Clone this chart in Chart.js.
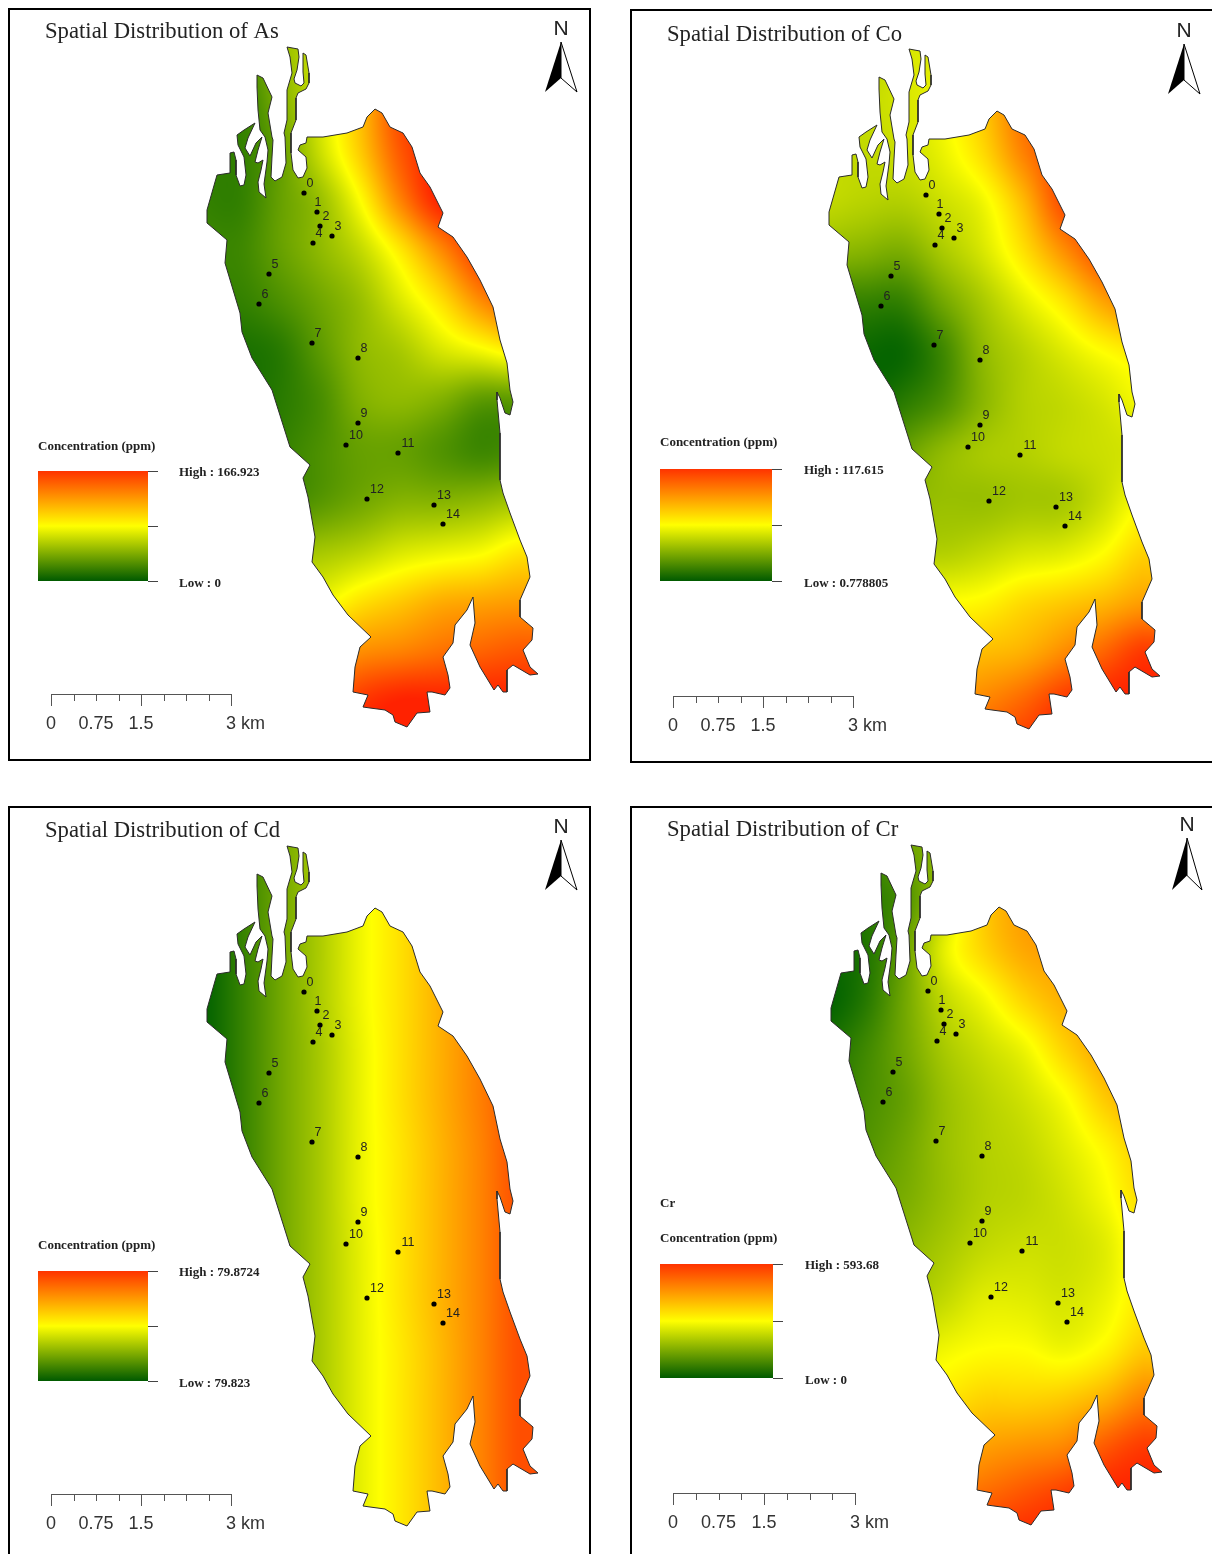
<!DOCTYPE html>
<html>
<head>
<meta charset="utf-8">
<title>Spatial Distribution</title>
<script src="https://cdn.jsdelivr.net/npm/chart.js@4"></script>
<style>
  html, body { margin: 0; padding: 0; background: #fff; overflow: hidden; width: 1212px; height: 1554px; }
  canvas { position: absolute; }
  .frame { position: absolute; border: 2px solid #000; box-sizing: border-box; }
</style>
</head>
<body>
<script>
// metals
var metals = ['As', 'Co', 'Cd', 'Cr'];
var highLabels = ['High : 166.923', 'High : 117.615', 'High : 79.8724', 'High : 593.68'];
var lowLabels = ['Low : 0', 'Low : 0.778805', 'Low : 79.823', 'Low : 0'];

// sampling stations, in map units
var stationIds = ['0','1','2','3','4','5','6','7','8','9','10','11','12','13','14'];
var stationX = [304,317,320,332,313,269,259,312,358,358,346,398,367,434,443];
var stationY = [193,212,226,236,243,274,304,343,358,423,445,453,499,505,524];

// coast outline, in map units, clockwise from the northern tip
var outline = [[287,47],[298,49],[299,57],[297,70],[294,79],[295,83],[301,86],[304,83],[303,72],[303,53],[306,55],[309,73],[309,83],[306,89],[298,93],[296,98],[296,120],[291,133],[291,153],[293,170],[298,178],[303,177],[307,168],[306,157],[298,150],[300,145],[306,143],[307,137],[323,137],[347,133],[363,127],[367,117],[375,109],[382,113],[390,127],[403,133],[412,147],[420,173],[430,187],[438,203],[443,213],[438,227],[453,237],[467,257],[480,280],[493,307],[500,340],[507,363],[510,390],[513,402],[510,415],[505,413],[500,398],[497,392],[497,400],[500,433],[500,480],[503,493],[510,513],[520,540],[527,557],[530,577],[520,600],[520,617],[533,628],[532,640],[523,650],[530,667],[538,674],[530,675],[513,665],[507,670],[507,692],[503,692],[498,685],[494,690],[480,667],[470,645],[475,623],[473,597],[467,610],[455,625],[453,643],[443,657],[448,675],[450,688],[445,695],[432,692],[427,692],[430,712],[417,713],[407,727],[395,722],[393,715],[385,710],[370,708],[363,707],[368,695],[353,692],[355,667],[360,647],[371,637],[348,615],[333,595],[323,577],[312,562],[315,537],[308,497],[303,478],[310,465],[290,447],[272,390],[252,358],[242,332],[240,313],[225,263],[227,240],[207,223],[207,210],[217,175],[230,173],[230,153],[234,152],[236,160],[236,175],[240,186],[244,185],[246,175],[244,157],[238,145],[237,135],[244,130],[255,123],[248,138],[245,148],[250,156],[256,143],[262,137],[258,150],[255,162],[258,163],[263,160],[261,170],[258,182],[259,192],[266,198],[264,184],[267,162],[268,150],[265,137],[260,130],[258,110],[257,87],[257,75],[263,78],[272,97],[268,113],[272,137],[273,140],[272,157],[271,177],[275,181],[282,177],[286,163],[285,137],[284,133],[287,120],[287,90],[292,73],[290,57]];

// surface grid: columns and rows of the values below, in map units
var gridX = [200,240,280,320,360,400,440,480,520];
var gridY = [50,100,150,200,250,300,350,400,450,500,550,600,650,700,750];

// surface values, 0 = low (green), 0.5 = yellow, 1 = high (red)
var surfaceAs = [
  [.12,.14,.28,.42,.62,.75,.85,.85,.85],
  [.1,.1,.25,.42,.64,.9,.95,.95,.95],
  [.1,.1,.2,.4,.62,.88,1,1,1],
  [.1,.1,.2,.3,.5,.78,1,1,1],
  [.12,.12,.2,.28,.38,.55,.76,.95,1],
  [.1,.1,.15,.22,.3,.43,.57,.76,.88],
  [.05,.05,.08,.18,.28,.33,.42,.48,.55],
  [.05,.05,.08,.14,.25,.28,.25,.18,.18],
  [.05,.05,.1,.15,.2,.2,.16,.12,.14],
  [.1,.1,.12,.17,.22,.26,.26,.28,.32],
  [.3,.3,.3,.32,.36,.42,.45,.48,.55],
  [.45,.45,.45,.47,.56,.62,.68,.7,.72],
  [.65,.65,.65,.68,.75,.78,.82,.85,.88],
  [.85,.85,.85,.85,.95,1,1,1,1],
  [1,1,1,1,1,1,1,1,1]
];
var surfaceCo = [
  [.35,.35,.42,.45,.6,.8,.9,.9,.9],
  [.36,.38,.42,.48,.62,.82,.9,.9,.9],
  [.38,.38,.4,.46,.58,.78,.92,.95,.95],
  [.38,.36,.35,.4,.47,.65,.9,.95,.95],
  [.28,.26,.24,.33,.42,.56,.74,.9,.95],
  [.1,.1,.1,.22,.33,.44,.55,.7,.8],
  [.02,.02,.02,.12,.28,.36,.43,.5,.55],
  [.02,.02,.08,.15,.27,.35,.38,.42,.48],
  [.1,.12,.2,.28,.33,.35,.38,.4,.42],
  [.2,.25,.28,.3,.3,.32,.33,.4,.5],
  [.35,.35,.36,.35,.38,.42,.44,.5,.6],
  [.5,.5,.5,.5,.52,.58,.62,.66,.72],
  [.6,.6,.62,.62,.65,.68,.76,.85,.95],
  [.75,.75,.75,.75,.78,.85,.95,1,1],
  [.9,.9,.9,.9,.9,.95,1,1,1]
];
var surfaceCd = [
  [0,.1,.22,.34,.47,.57,.68,.79,.9],
  [0,.1,.22,.34,.47,.57,.68,.79,.9],
  [0,.1,.22,.34,.47,.57,.68,.79,.9],
  [0,.1,.22,.34,.47,.57,.68,.79,.9],
  [0,.1,.22,.33,.46,.57,.68,.79,.9],
  [0,.1,.22,.33,.46,.57,.68,.79,.9],
  [0,.1,.22,.33,.46,.56,.67,.78,.9],
  [0,.1,.22,.33,.46,.56,.67,.78,.9],
  [0,.1,.22,.33,.45,.56,.67,.78,.9],
  [0,.1,.22,.33,.45,.56,.67,.78,.9],
  [0,.1,.22,.33,.45,.55,.66,.78,.9],
  [0,.1,.22,.33,.45,.55,.66,.78,.9],
  [0,.1,.22,.33,.45,.55,.66,.78,.9],
  [0,.1,.22,.33,.45,.55,.66,.78,.9],
  [0,.1,.22,.33,.45,.55,.66,.78,.9]
];
var surfaceCr = [
  [.1,.12,.2,.3,.5,.7,.7,.7,.7],
  [.05,.08,.15,.35,.6,.72,.75,.75,.75],
  [.03,.06,.2,.45,.6,.7,.72,.72,.72],
  [0,.07,.22,.38,.48,.6,.68,.7,.7],
  [.05,.12,.22,.33,.4,.47,.6,.7,.72],
  [.08,.14,.2,.3,.36,.41,.49,.62,.7],
  [.12,.16,.22,.3,.35,.38,.44,.52,.62],
  [.15,.2,.24,.3,.35,.37,.41,.48,.58],
  [.22,.25,.28,.33,.38,.4,.4,.44,.55],
  [.3,.3,.32,.38,.44,.44,.42,.46,.55],
  [.38,.38,.42,.47,.5,.5,.47,.52,.62],
  [.5,.5,.5,.55,.6,.6,.62,.68,.78],
  [.6,.6,.6,.65,.72,.75,.78,.88,.95],
  [.8,.8,.8,.82,.85,.9,.95,1,1],
  [1,1,1,1,1,1,1,1,1]
];
var surfaces = [surfaceAs, surfaceCo, surfaceCd, surfaceCr];

// scale bar
var scaleKm = [0,0.375,0.75,1.125,1.5,1.875,2.25,2.625,3];
var scaleLabelKm = [0,0.75,1.5];
var scaleLabels = ['0','0.75','1.5'];

// layout of the four panels (canvas shift on the page, and where things sit in it)
var panels = [
  {dx:0,   dy:0,   frame:[8,8,583,753],    titleX:45, titleY:32, legX:38, legY0:471, legW:110, legH:110, legTitleY:447, hiX:179, barX:51, barW:180, barY:694, north:[561,42,16,50]},
  {dx:622, dy:2,   frame:[630,9,590,754],  titleX:45, titleY:33, legX:38, legY0:467, legW:112, legH:112, legTitleY:441, hiX:182, barX:51, barW:180, barY:694, north:[562,42,16,50]},
  {dx:0,   dy:799, frame:[8,806,583,760],  titleX:45, titleY:32, legX:38, legY0:472, legW:110, legH:110, legTitleY:447, hiX:179, barX:51, barW:180, barY:695, north:[561,41,16,50]},
  {dx:624, dy:798, frame:[630,806,590,760],titleX:43, titleY:32, legX:36, legY0:466, legW:113, legH:114, legTitleY:441, hiX:181, barX:49, barW:182, barY:695, north:[563,40,15,52], extra:'Cr', extraY:406}
];

function rampColor(v) {
  v = Math.max(0, Math.min(1, v));
  if (v < 0.5) {
    var t = v / 0.5;
    return [255 * t, 97 + 158 * t, 0];
  }
  var u = (v - 0.5) / 0.5;
  return [255, 255 - 221 * u, 0];
}

function cubic(a, b, c, d, t) {
  return b + 0.5 * t * (c - a + t * (2 * a - 5 * b + 4 * c - d + t * (3 * (b - c) + d - a)));
}

function sampleSurface(rows, x, y) {
  var fx = (x - gridX[0]) / (gridX[1] - gridX[0]);
  var fy = (y - gridY[0]) / (gridY[1] - gridY[0]);
  fx = Math.max(0, Math.min(gridX.length - 1.001, fx));
  fy = Math.max(0, Math.min(gridY.length - 1.001, fy));
  var ix = Math.floor(fx), iy = Math.floor(fy);
  var col = [];
  for (var j = -1; j <= 2; j++) {
    var r = rows[Math.max(0, Math.min(rows.length - 1, iy + j))];
    col.push(cubic(r[Math.max(0, ix - 1)], r[ix], r[ix + 1], r[Math.min(r.length - 1, ix + 2)], fx - ix));
  }
  return cubic(col[0], col[1], col[2], col[3], fy - iy);
}

function tracePath(ctx, chart) {
  var xs = chart.scales.x, ys = chart.scales.y;
  ctx.beginPath();
  for (var i = 0; i < outline.length; i++) {
    var px = xs.getPixelForValue(outline[i][0]), py = ys.getPixelForValue(outline[i][1]);
    if (i == 0) ctx.moveTo(px, py); else ctx.lineTo(px, py);
  }
  ctx.closePath();
}

// paints the interpolated surface inside the coast
var surfacePlugin = {
  id: 'surface',
  beforeDatasetsDraw: function(chart, args, opts) {
    var xs = chart.scales.x, ys = chart.scales.y, ctx = chart.ctx;
    var x0 = xs.getPixelForValue(200), x1 = xs.getPixelForValue(545);
    var y0 = ys.getPixelForValue(40), y1 = ys.getPixelForValue(735);
    var w = Math.round(x1 - x0), h = Math.round(y1 - y0);
    var off = document.createElement('canvas');
    off.width = w; off.height = h;
    var octx = off.getContext('2d');
    var img = octx.createImageData(w, h);
    for (var j = 0; j < h; j++) {
      var vy = ys.getValueForPixel(y0 + j);
      for (var i = 0; i < w; i++) {
        var c = rampColor(sampleSurface(opts.rows, xs.getValueForPixel(x0 + i), vy));
        var k = (j * w + i) * 4;
        img.data[k] = c[0]; img.data[k + 1] = c[1]; img.data[k + 2] = c[2]; img.data[k + 3] = 255;
      }
    }
    octx.putImageData(img, 0, 0);
    ctx.save();
    tracePath(ctx, chart);
    ctx.clip();
    ctx.drawImage(off, x0, y0);
    ctx.restore();
  }
};

// title, legend, scale bar, north arrow and station labels
var furniturePlugin = {
  id: 'furniture',
  afterDatasetsDraw: function(chart, args, opts) {
    var ctx = chart.ctx, p = opts.panel, n = opts.index;
    var sx = function(v) { return chart.scales.x.getPixelForValue(v); };
    var sy = function(v) { return chart.scales.y.getPixelForValue(v); };
    ctx.save();
    ctx.textBaseline = 'middle';

    // station labels
    ctx.fillStyle = '#222';
    ctx.font = '12.5px "Liberation Sans"';
    ctx.textAlign = 'center';
    for (var i = 0; i < stationIds.length; i++) {
      var shift = i >= 10 ? 10 : 6;
      if (i == 1) shift = 1;
      ctx.fillText(stationIds[i], sx(stationX[i] + shift), sy(stationY[i] - 9));
    }

    // title
    ctx.textAlign = 'left';
    ctx.fillStyle = '#222';
    ctx.font = '22.7px "Liberation Serif"';
    ctx.fillText('Spatial Distribution of ' + metals[n], sx(p.titleX), sy(p.titleY));

    // legend
    var grad = ctx.createLinearGradient(0, sy(p.legY0), 0, sy(p.legY0 + p.legH));
    grad.addColorStop(0, '#ff3300');
    grad.addColorStop(0.5, '#ffff00');
    grad.addColorStop(1, '#005a00');
    ctx.fillStyle = grad;
    ctx.fillRect(sx(p.legX), sy(p.legY0), p.legW, p.legH);
    ctx.strokeStyle = '#444';
    ctx.lineWidth = 1;
    [0, 0.5, 1].forEach(function(f) {
      var ty = Math.round(sy(p.legY0 + p.legH * f)) + 0.5;
      ctx.beginPath();
      ctx.moveTo(sx(p.legX + p.legW), ty);
      ctx.lineTo(sx(p.legX + p.legW + 10), ty);
      ctx.stroke();
    });
    ctx.fillStyle = '#222';
    ctx.font = 'bold 13px "Liberation Serif"';
    ctx.fillText('Concentration (ppm)', sx(p.legX), sy(p.legTitleY));
    ctx.fillText(highLabels[n], sx(p.hiX), sy(p.legY0 + 2));
    ctx.fillText(lowLabels[n], sx(p.hiX), sy(p.legY0 + p.legH + 3));
    if (p.extra) ctx.fillText(p.extra, sx(p.legX), sy(p.extraY));

    // scale bar
    var pxKm = p.barW / 3;
    ctx.strokeStyle = '#555';
    ctx.beginPath();
    ctx.moveTo(sx(p.barX), Math.round(sy(p.barY)) + 0.5);
    ctx.lineTo(sx(p.barX + p.barW), Math.round(sy(p.barY)) + 0.5);
    scaleKm.forEach(function(km, i) {
      var tx = Math.round(sx(p.barX + km * pxKm)) + 0.5;
      ctx.moveTo(tx, sy(p.barY));
      ctx.lineTo(tx, sy(p.barY + (i % 4 == 0 ? 12 : 7)));
    });
    ctx.stroke();
    ctx.fillStyle = '#333';
    ctx.font = '18px "Liberation Sans"';
    ctx.textAlign = 'center';
    scaleLabelKm.forEach(function(km, i) {
      ctx.fillText(scaleLabels[i], sx(p.barX + km * pxKm), sy(p.barY + 30));
    });
    ctx.textAlign = 'left';
    ctx.fillText('3 km', sx(p.barX + p.barW - 5), sy(p.barY + 30));

    // north arrow
    var nx = p.north[0], ny = p.north[1], hw = p.north[2], nh = p.north[3];
    ctx.fillStyle = '#222';
    ctx.font = '21px "Liberation Sans"';
    ctx.textAlign = 'center';
    ctx.fillText('N', sx(nx), sy(ny - 13));
    ctx.fillStyle = '#000';
    ctx.beginPath();
    ctx.moveTo(sx(nx), sy(ny));
    ctx.lineTo(sx(nx - hw), sy(ny + nh));
    ctx.lineTo(sx(nx), sy(ny + nh * 0.72));
    ctx.closePath();
    ctx.fill();
    ctx.fillStyle = '#fff';
    ctx.strokeStyle = '#000';
    ctx.beginPath();
    ctx.moveTo(sx(nx), sy(ny));
    ctx.lineTo(sx(nx + hw), sy(ny + nh));
    ctx.lineTo(sx(nx), sy(ny + nh * 0.72));
    ctx.closePath();
    ctx.fill();
    ctx.stroke();
    ctx.restore();
  }
};

function makePanel(p, n) {
  var frame = document.createElement('div');
  frame.className = 'frame';
  frame.style.left = p.frame[0] + 'px';
  frame.style.top = p.frame[1] + 'px';
  frame.style.width = p.frame[2] + 'px';
  frame.style.height = p.frame[3] + 'px';
  document.body.appendChild(frame);

  var canvas = document.createElement('canvas');
  canvas.width = 590;
  canvas.height = 760;
  canvas.style.left = p.dx + 'px';
  canvas.style.top = p.dy + 'px';
  canvas.style.width = '590px';
  canvas.style.height = '760px';
  document.body.appendChild(canvas);

  var coast = outline.map(function(o) { return {x: o[0], y: o[1]}; });
  coast.push(coast[0]);
  var stations = stationX.map(function(x, i) { return {x: x, y: stationY[i]}; });

  new Chart(canvas, {
    type: 'scatter',
    data: {
      datasets: [
        {label: 'Coast', data: coast, showLine: true, borderColor: '#2b2b2b', borderWidth: 1, pointRadius: 0, fill: false, tension: 0},
        {label: 'Stations', data: stations, pointRadius: 2.6, pointBackgroundColor: '#000', pointBorderWidth: 0, showLine: false}
      ]
    },
    options: {
      responsive: false,
      animation: false,
      events: [],
      layout: {padding: 0, autoPadding: false},
      scales: {
        x: {type: 'linear', display: false, min: 0, max: 590},
        y: {type: 'linear', display: false, min: 0, max: 760, reverse: true}
      },
      plugins: {
        legend: {display: false},
        tooltip: {enabled: false},
        surface: {rows: surfaces[n]},
        furniture: {panel: p, index: n}
      }
    },
    plugins: [surfacePlugin, furniturePlugin]
  });
}

panels.forEach(makePanel);
</script>
</body>
</html>
